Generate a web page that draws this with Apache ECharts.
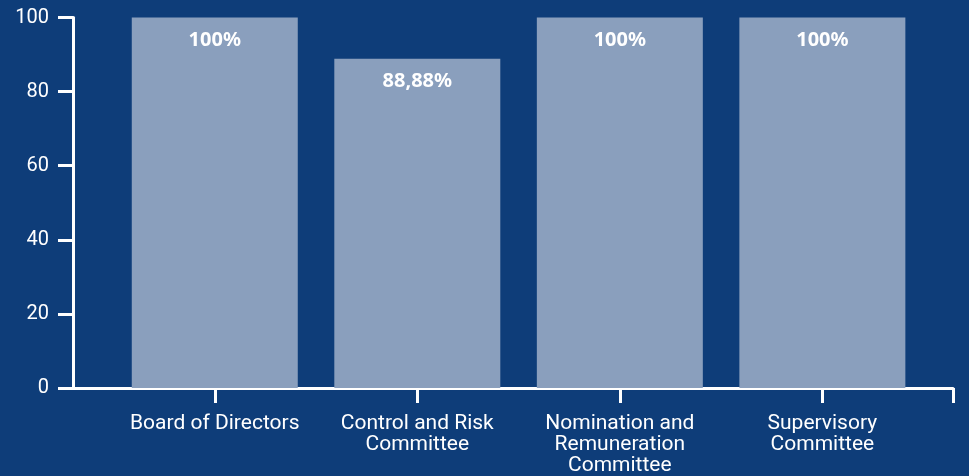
<!DOCTYPE html>
<html>
<head>
<meta charset="utf-8">
<script src="https://cdn.jsdelivr.net/npm/echarts@6/dist/echarts.min.js"></script>
<style>
  html, body { margin: 0; padding: 0; background: #0e3d79; }
  #chart { width: 969px; height: 476px; }
</style>
</head>
<body>
<div id="chart"></div>
<script>
// Meeting attendance per corporate body (%)
const categories = [
  'Board of Directors',
  'Control and Risk\nCommittee',
  'Nomination and\nRemuneration\nCommittee',
  'Supervisory\nCommittee'
];
const attendance = [100, 88.88, 100, 100];
const yTicks = [0, 20, 40, 60, 80, 100];

// Horizontal extent of the category scale (in category-index units)
const X_MIN = -0.70;
const X_MAX = 3.645;

const WHITE = '#ffffff';
const BAR = '#8a9fbd';

function formatPct(v) {
  const s = Number.isInteger(v) ? String(v) : v.toFixed(2).replace('.', ',');
  return s + '%';
}

const chart = echarts.init(document.getElementById('chart'), null, { renderer: 'canvas' });

chart.setOption({
  backgroundColor: '#0e3d79',
  animation: false,
  grid: { left: 73, right: 16, top: 17.5, bottom: 87.5, containLabel: false },
  xAxis: {
    type: 'value',
    min: X_MIN,
    max: X_MAX,
    splitLine: { show: false },
    axisLine: { show: true, onZero: false, lineStyle: { color: WHITE, width: 3 } },
    axisTick: {
      show: true,
      length: 15,
      customValues: categories.map((_, i) => i).concat([X_MAX]),
      lineStyle: { color: WHITE, width: 3 }
    },
    axisLabel: {
      customValues: categories.map((_, i) => i),
      formatter: (v) => categories[Math.round(v)] || '',
      color: WHITE,
      fontFamily: 'Roboto',
      fontSize: 21,
      lineHeight: 21,
      margin: 25,
      align: 'center'
    }
  },
  yAxis: {
    type: 'value',
    min: yTicks[0],
    max: yTicks[yTicks.length - 1],
    interval: yTicks[1] - yTicks[0],
    splitLine: { show: false },
    axisLine: { show: true, onZero: false, lineStyle: { color: WHITE, width: 3 } },
    axisTick: { show: true, length: 15, lineStyle: { color: WHITE, width: 3 } },
    axisLabel: {
      color: WHITE,
      fontFamily: 'Roboto',
      fontSize: 20,
      margin: 24
    }
  },
  series: [{
    type: 'bar',
    data: attendance.map((v, i) => [i, v]),
    barWidth: 166,
    itemStyle: { color: BAR },
    label: {
      show: true,
      position: 'insideTop',
      distance: 13,
      formatter: (p) => formatPct(p.value[1]),
      color: WHITE,
      fontFamily: 'Noto Sans',
      fontWeight: 'bold',
      fontSize: 20
    }
  }]
});
</script>
</body>
</html>
